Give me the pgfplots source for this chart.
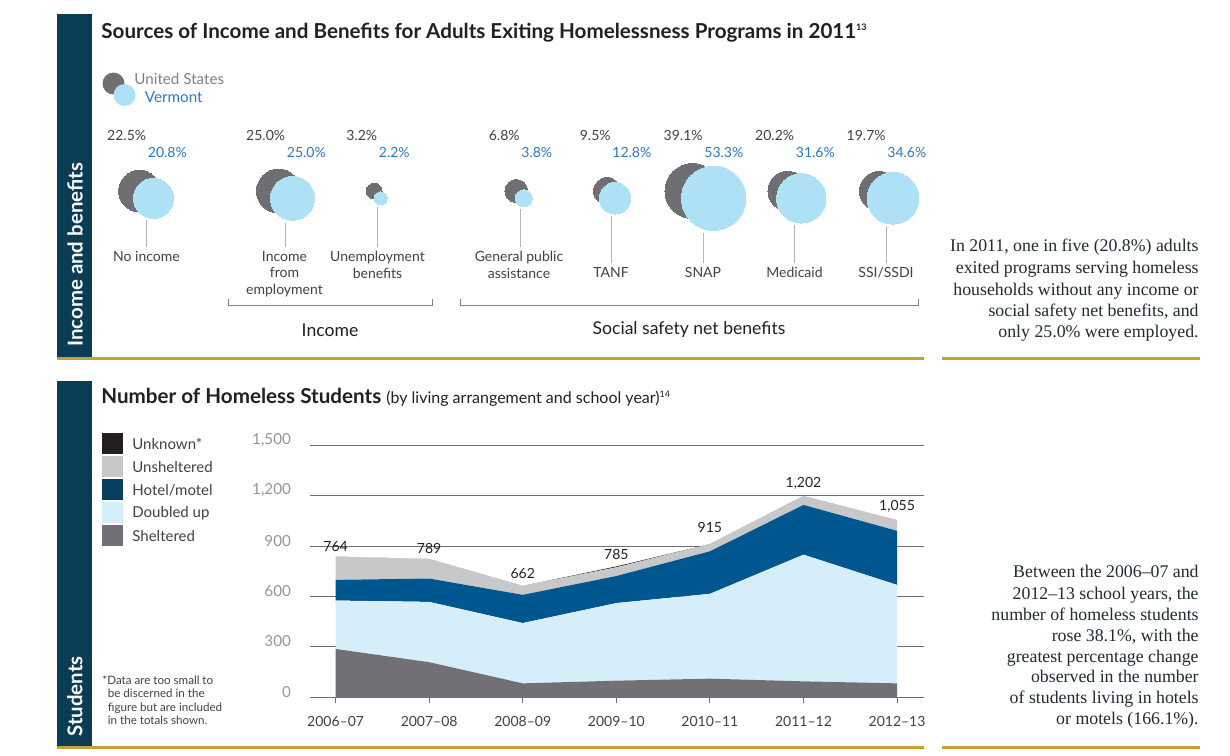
\documentclass[border=0pt]{standalone}
\usepackage{pgfplots}
\pgfplotsset{compat=1.18}
\usepackage{pgfplotstable}
\usepackage{fontspec}
\setmainfont{Lato}
\newfontfamily\serif[Ligatures=TeX]{Liberation Serif}

\definecolor{sidebar}{HTML}{0B3C55}
\definecolor{gold}{HTML}{C4A232}
\definecolor{usgray}{HTML}{6F6E73}
\definecolor{vtblue}{HTML}{AEE0F6}
\definecolor{vttext}{HTML}{2B78C2}
\definecolor{ink}{HTML}{231F20}
\definecolor{notec}{HTML}{1F2A30}
\definecolor{labelc}{HTML}{414042}
\definecolor{stemc}{HTML}{B5B5B5}
\definecolor{sheltered}{HTML}{717075}
\definecolor{doubled}{HTML}{D5EEFA}
\definecolor{hotel}{HTML}{00568F}
\definecolor{hotelkey}{HTML}{083F5E}
\definecolor{unsheltered}{HTML}{C8C8CA}
\definecolor{unknownc}{HTML}{231F20}
\definecolor{gridc}{HTML}{6D6E71}
\definecolor{ytickc}{HTML}{939598}

\newcommand\sz{\fontsize{7}{8}\selectfont}

% bubble chart: stem x (px), half offset between the two circles, US %, VT %
\pgfplotstableread{
s off us vt
146.5 7 22.5 20.8
285.5 7 25.0 25.0
377.5 3.3 3.2 2.2
520 3.7 6.8 3.8
611 4 9.5 12.8
703 10.6 39.1 53.3
794.5 6.8 20.2 31.6
886 7 19.7 34.6
}\bubbles

% homeless students, stacked by living arrangement
\pgfplotstableread{
i sh dbl hot uns unk
0 288 288 123 138 0
1 209 359 139 116 0
2 83 359 168 53 0
3 99 462 161 52 5
4 111 505 253 43 0
5 95 754 296 53 0
6 83 586 322 63 0
}\students

\newcommand\key[3]{%
  \fill[#1] (102,#2) rectangle (122.5,#2+21);
  \node[anchor=west, inner sep=0, text=labelc, font=\fontsize{7.5}{9}\selectfont] at (132,#2+11) {#3};}

\begin{document}
\begin{tikzpicture}
\begin{scope}[x=0.5pt,y=-0.5pt]
\useasboundingbox (0,0) rectangle (1230,755);
% side bars and rules
\fill[sidebar] (57,14) rectangle (91.5,357);
\fill[sidebar] (57,381) rectangle (91.5,746);
\node[rotate=90, anchor=west, text=white, inner sep=0,
  font=\bfseries\fontsize{10.2}{12}\selectfont] at (75,347) {Income and benefits};
\node[rotate=90, anchor=west, text=white, inner sep=0,
  font=\bfseries\fontsize{10.2}{12}\selectfont] at (75,737) {Students};
\fill[gold] (57,357) rectangle (924,359.5);
\fill[gold] (942,357) rectangle (1200,359.5);
\fill[gold] (57,746) rectangle (924,748.5);
\fill[gold] (942,746) rectangle (1200,748.5);

% top title and legend
\node[anchor=base west, inner sep=0, text=ink, font=\bfseries\fontsize{10.3}{12}\selectfont]
  at (101,38) {Sources of Income and Benefits for Adults Exiting Homelessness Programs in 2011\textsuperscript{\fontsize{4.5}{5}\selectfont 13}};
\fill[usgray] (113.5,83.5) circle[radius=11];
\fill[vtblue] (124.5,95) circle[radius=11];
\node[anchor=west, inner sep=0, text=gray, font=\fontsize{7.6}{9}\selectfont] at (134,79) {United States};
\node[anchor=west, inner sep=0, text=vttext, font=\fontsize{7.6}{9}\selectfont] at (144.5,97) {Vermont};

% value labels
\foreach \s/\u/\v in {146.5/22.5/20.8, 285.5/25.0/25.0, 377.5/3.2/2.2, 520/6.8/3.8,
    611/9.5/12.8, 703/39.1/53.3, 794.5/20.2/31.6, 886/19.7/34.6} {
  \node[anchor=east, inner sep=0, text=labelc, font=\sz] at (\s,135) {\u\%};
  \node[anchor=west, inner sep=0, text=vttext, font=\sz] at (\s+1,152) {\v\%};
}
% stems
\foreach \s/\a/\b in {146.5/220/247, 285.5/222.5/247, 377.5/207/247, 520/209/247,
    611/216/263, 703/232.5/263, 794.5/225/263, 886/226/263}
  \draw[stemc, line width=0.5pt] (\s,\a) -- (\s,\b);
% category labels
\begin{scope}[every node/.style={anchor=north, align=center, inner sep=0, text=labelc,
    font=\fontsize{7}{8.25}\selectfont}]
\node at (146.5,251) {No income};
\node at (284.5,251) {Income\\from\\employment};
\node at (377.5,251) {Unemployment\\benefits};
\node at (519,251) {General public\\assistance};
\node at (611,267) {TANF};
\node at (703,267) {SNAP};
\node at (794.5,267) {Medicaid};
\node at (886,267) {SSI/SSDI};
\end{scope}
% brackets
\draw[gray, line width=0.5pt] (228,299) -- (228,305) -- (432,305) -- (432,299);
\draw[gray, line width=0.5pt] (460,299) -- (460,305) -- (918,305) -- (918,299);
\node[text=ink, inner sep=0, font=\fontsize{8.8}{10}\selectfont] at (330,330) {Income};
\node[text=ink, inner sep=0, font=\fontsize{8.8}{10}\selectfont] at (689,330) {Social safety net benefits};

% right-hand notes
\begin{scope}[every node/.style={anchor=base east, inner sep=0, text=notec,
    font=\serif\fontsize{8.9}{10.7}\selectfont}]
\node at (1199,251) {In 2011, one in five (20.8\%) adults};
\node at (1199,273) {exited programs serving homeless};
\node at (1199,295) {households without any income or};
\node at (1199,316) {social safety net benefits, and};
\node at (1199,337) {only 25.0\% were employed.};
\node at (1199,577) {Between the 2006--07 and};
\node at (1199,599) {2012--13 school years, the};
\node at (1199,620) {number of homeless students};
\node at (1199,641) {rose 38.1\%, with the};
\node at (1199,662) {greatest percentage change};
\node at (1199,682) {observed in the number};
\node at (1199,703) {of students living in hotels};
\node at (1199,724) {or motels (166.1\%).};
\end{scope}

% bottom title, legend and footnote
\node[anchor=base west, inner sep=0, text=ink] at (101,403.5)
  {{\bfseries\fontsize{10.3}{12}\selectfont Number of Homeless Students} {\fontsize{8}{9}\selectfont (by living arrangement and school year)\textsuperscript{\fontsize{4.5}{5}\selectfont 14}}};
\key{unknownc}{433}{Unknown*}
\key{unsheltered}{456}{Unsheltered}
\key{hotelkey}{479}{Hotel/motel}
\key{doubled}{502}{Doubled up}
\key{sheltered}{525}{Sheltered}
\begin{scope}[every node/.style={anchor=base west, inner sep=0, text=labelc,
    font=\fontsize{5.8}{6.5}\selectfont}]
\node at (102,684.5) {*Data are too small to};
\node at (107.5,697.5) {be discerned in the};
\node at (107.5,711) {figure but are included};
\node at (107.5,724) {in the totals shown.};
\end{scope}
\end{scope}

% bubbles, in picture pixel coordinates
\begin{axis}[at={(0pt,0pt)}, anchor=north west, scale only axis,
  width=615pt, height=377.5pt, xmin=0, xmax=1230, ymin=0, ymax=755,
  y dir=reverse, hide axis, clip=false]
\addplot[scatter, only marks, mark=*, point meta=\thisrow{us},
  scatter/use mapped color={draw=usgray, fill=usgray},
  mark options={line width=0pt},
  visualization depends on={2.2*sqrt(\thisrow{us}) \as \rad},
  scatter/@pre marker code/.append style={/tikz/mark size=\rad pt}]
  table[x expr=\thisrow{s}-\thisrow{off}, y expr=191] {\bubbles};
\addplot[scatter, only marks, mark=*, point meta=\thisrow{vt},
  scatter/use mapped color={draw=vtblue, fill=vtblue},
  mark options={line width=0pt},
  visualization depends on={2.2*sqrt(\thisrow{vt}) \as \rad},
  scatter/@pre marker code/.append style={/tikz/mark size=\rad pt}]
  table[x expr=\thisrow{s}+\thisrow{off}, y expr=198.3] {\bubbles};
\end{axis}

% stacked area chart
\begin{axis}[at={(155pt,-348.65pt)}, anchor=south west, scale only axis,
  width=307pt, height=126pt,
  xmin=-0.2735, xmax=6.288, ymin=0, ymax=1500,
  axis line style={draw=none},
  stack plots=y,
  ymajorgrids, grid style={draw=gridc, line width=0.5pt},
  ytick={0,300,600,900,1200,1500},
  yticklabels={0,300,600,900,{1,200},{1,500}},
  xtick={0,...,6},
  xticklabels={2006--07,2007--08,2008--09,2009--10,2010--11,2011--12,2012--13},
  tick align=outside, xtick pos=left, ytick pos=left,
  major tick length=3pt,
  xtick style={draw=gridc, line width=0.5pt},
  ytick style={draw=none},
  ticklabel style={font=\sz},
  xticklabel style={text=labelc, yshift=-3pt},
  yticklabel style={text=ytickc, font=\fontsize{7.6}{8}\selectfont, xshift=-3pt, yshift=2.7pt},
  clip=false]
\addplot[fill=sheltered, draw=none] table[x=i, y=sh] {\students} \closedcycle;
\addplot[fill=doubled, draw=none] table[x=i, y=dbl] {\students} \closedcycle;
\addplot[fill=hotel, draw=none] table[x=i, y=hot] {\students} \closedcycle;
\addplot[fill=unsheltered, draw=none] table[x=i, y=uns] {\students} \closedcycle;
\addplot[fill=unknownc, draw=none] table[x=i, y=unk] {\students} \closedcycle;
\node[text=ink, inner sep=0, font=\sz] at (axis cs:0,896) {764};
\node[text=ink, inner sep=0, font=\sz] at (axis cs:1,887) {789};
\node[text=ink, inner sep=0, font=\sz] at (axis cs:2,740) {662};
\node[text=ink, inner sep=0, font=\sz] at (axis cs:3,851) {785};
\node[text=ink, inner sep=0, font=\sz] at (axis cs:4,1008) {915};
\node[text=ink, inner sep=0, font=\sz] at (axis cs:5,1276) {1,202};
\node[text=ink, inner sep=0, font=\sz] at (axis cs:6,1137) {1,055};
\end{axis}
\end{tikzpicture}
\end{document}
